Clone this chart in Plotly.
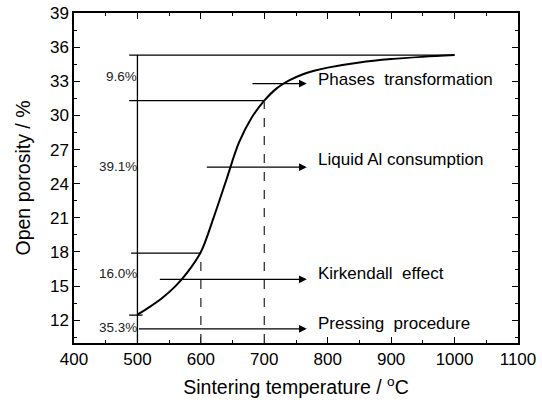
import plotly.graph_objects as go

# curve data
temps = [500, 520, 540, 560, 580, 600, 620, 640, 660, 680, 700, 720, 740, 760, 780, 800, 850, 900, 950, 1000]
porosity = [12.5, 13.2, 14.0, 15.0, 16.3, 18.0, 21.0, 24.3, 27.6, 29.8, 31.3, 32.4, 33.1, 33.6, 33.95, 34.2, 34.65, 34.95, 35.15, 35.3]

# reference levels
top_level = 35.3
level_700 = 31.3
level_600 = 17.9
start_level = 12.45

# arrows: (y, x_start, x_end, label)
arrow_y = [32.8, 25.45, 15.6, 11.25]
arrow_x0 = [679, 607, 533, 500]
arrow_x1 = [767, 767, 767, 767]
arrow_labels = ["Phases\u00a0 transformation", "Liquid Al consumption", "Kirkendall\u00a0 effect", "Pressing\u00a0 procedure"]
label_y = [33.2, 26.1, 16.1, 11.7]

pct_labels = ["9.6%", "39.1%", "16.0%", "35.3%"]
pct_y = [33.4, 25.5, 16.1, 11.35]

xticks = [400, 500, 600, 700, 800, 900, 1000, 1100]
yticks = [12, 15, 18, 21, 24, 27, 30, 33, 36, 39]

FONT = "Arial, Liberation Sans, sans-serif"

fig = go.Figure()
fig.add_trace(go.Scatter(x=temps, y=porosity, mode="lines",
                         line=dict(color="black", width=2, shape="spline"),
                         showlegend=False))

blk = dict(color="black", width=1.3)
shapes = [
    dict(type="line", x0=487, x1=1000, y0=top_level, y1=top_level, line=blk),
    dict(type="line", x0=487, x1=700, y0=level_700, y1=level_700, line=blk),
    dict(type="line", x0=490, x1=600, y0=level_600, y1=level_600, line=blk),
    dict(type="line", x0=487, x1=508, y0=start_level, y1=start_level, line=blk),
    dict(type="line", x0=500, x1=500, y0=10, y1=top_level, line=blk),
    dict(type="line", x0=600, x1=600, y0=10, y1=level_600, line=dict(color="#333", width=1.3, dash="dash")),
    dict(type="line", x0=700, x1=700, y0=10, y1=level_700, line=dict(color="#333", width=1.3, dash="dash")),
]
for s in shapes:
    s["xref"] = "x"; s["yref"] = "y"
fig.update_layout(shapes=shapes)

anns = []
for y, x0, x1, lab, ly in zip(arrow_y, arrow_x0, arrow_x1, arrow_labels, label_y):
    anns.append(dict(x=x1, y=y, ax=x0, ay=y, xref="x", yref="y", axref="x", ayref="y",
                     text="", showarrow=True, arrowhead=2, arrowsize=1.2, arrowwidth=1.3,
                     arrowcolor="black"))
    anns.append(dict(x=781, y=ly, xref="x", yref="y", text=lab, showarrow=False,
                     xanchor="left", yanchor="middle",
                     font=dict(size=17, color="black", family=FONT)))
for t, y in zip(pct_labels, pct_y):
    anns.append(dict(x=500, y=y, xref="x", yref="y", text=t, showarrow=False,
                     xanchor="right", yanchor="middle", xshift=2,
                     font=dict(size=13.5, color="#222", family=FONT)))
fig.update_layout(annotations=anns)

axis_common = dict(showline=True, linecolor="black", linewidth=1.5, mirror="ticks",
                   ticks="inside", ticklen=6, tickwidth=1.2, tickcolor="black",
                   showgrid=False, zeroline=False, automargin=False,
                   tickfont=dict(size=17, color="black", family=FONT))
fig.update_xaxes(range=[400, 1100], tickvals=xticks, **axis_common,
                 minor=dict(dtick=50, ticks="inside", ticklen=3, tickcolor="black", tick0=400),
                 title=dict(text="Sintering temperature / <sup>o</sup>C", standoff=12,
                            font=dict(size=19.5, color="black", family=FONT)))
fig.update_yaxes(range=[10, 39], tickvals=yticks, **axis_common,
                 minor=dict(dtick=1.5, tick0=0, ticks="inside", ticklen=3, tickcolor="black"),
                 title=dict(text="Open porosity / %", standoff=14,
                            font=dict(size=19.5, color="black", family=FONT)))

fig.update_layout(width=542, height=404, margin=dict(l=74, r=24, t=13, b=61, autoexpand=False),
                  plot_bgcolor="white", paper_bgcolor="white")
fig.write_html("out.html")
